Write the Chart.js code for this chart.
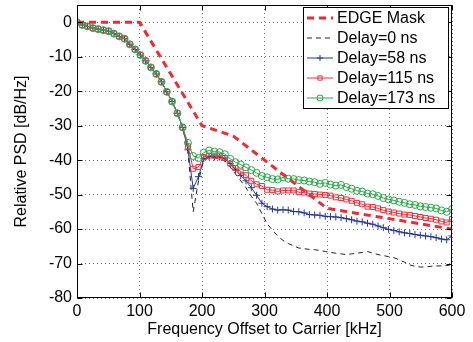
<!DOCTYPE html>
<html>
<head>
<meta charset="utf-8">
<title>Relative PSD vs frequency offset</title>
<script src="https://cdn.jsdelivr.net/npm/chart.js@4.4.1/dist/chart.umd.min.js"></script>
<style>
  html, body { margin: 0; padding: 0; background: #fff; }
  canvas { display: block; }
</style>
</head>
<body>
<canvas id="psd-chart" width="473" height="342"></canvas>
<script>
// ── Data ──────────────────────────────────────────────────
const freqKHz = [
  0, 8.5, 16.9, 25.4, 33.8, 42.3, 50.7, 59.2, 67.6, 76.1,
  84.5, 93, 101.4, 109.9, 118.3, 126.8, 135.2, 143.7, 152.1, 160.6,
  169, 177.5, 185.9, 194.4, 202.8, 211.3, 219.7, 228.2, 236.6, 245.1,
  253.5, 262, 270.4, 278.9, 287.3, 295.8, 304.2, 312.7, 321.1, 329.6,
  338, 346.5, 354.9, 363.4, 371.8, 380.3, 388.7, 397.2, 405.6, 414.1,
  422.5, 431, 439.4, 447.9, 456.3, 464.8, 473.2, 481.7, 490.1, 498.6,
  507, 515.5, 523.9, 532.4, 540.8, 549.3, 557.7, 566.2, 574.6, 583.1,
  591.5, 600,
];

// all four delays share the main lobe up to ~170 kHz
const commonHead = [
  0, -0.8, -1.2, -1.7, -2.0, -2.3, -2.6, -3.3, -4.1, -4.8,
  -6.4, -7.9, -9.5, -11.2, -13.1, -15.0, -17.3, -20.2, -23.0, -26.4,
  -30.5,
];

const delay0Tail = [
  -37.5, -55.0, -46.0, -40.0, -39.2, -39.3, -39.5, -40.2, -42.0, -44.0,
  -46.0, -48.0, -50.5, -52.5, -55.5, -58.5, -60.3, -62.0, -63.3, -64.2,
  -64.9, -65.5, -65.7, -65.9, -66.0, -66.2, -66.5, -66.8, -67.0, -67.2,
  -67.4, -67.2, -67.0, -66.8, -66.5, -67.0, -67.4, -67.7, -68.0, -68.3,
  -68.9, -69.6, -70.4, -70.8, -71.0, -71.0, -70.8, -70.7, -70.7, -70.6,
  -70.3,
];

const delay58Tail = [
  -37.0, -48.2, -44.8, -39.6, -39.0, -39.1, -39.1, -39.6, -41.0, -42.8,
  -44.5, -46.0, -48.0, -50.2, -52.5, -53.5, -54.2, -54.5, -54.4, -54.5,
  -54.9, -55.0, -55.3, -55.8, -55.9, -56.0, -56.3, -56.4, -56.5, -56.7,
  -57.0, -57.3, -57.7, -57.9, -58.3, -58.6, -59.1, -59.6, -60.1, -60.4,
  -60.8, -61.1, -61.3, -61.6, -61.8, -62.0, -62.2, -62.5, -62.9, -63.1,
  -62.0,
];

const delay115Tail = [
  -36.0, -42.5, -42.0, -39.1, -38.7, -38.7, -38.9, -39.4, -41.0, -42.3,
  -43.3, -44.4, -46.0, -47.0, -47.5, -48.6, -48.7, -49.1, -48.8, -48.8,
  -48.8, -49.3, -49.4, -49.7, -49.8, -50.0, -50.1, -50.3, -50.8, -51.0,
  -51.4, -51.8, -52.4, -52.8, -53.5, -53.6, -54.0, -54.5, -54.9, -55.2,
  -55.5, -55.8, -55.9, -56.2, -56.5, -56.8, -57.0, -57.3, -57.8, -58.1,
  -57.1,
];

const delay173Tail = [
  -35.0, -38.8, -39.4, -37.8, -37.2, -37.5, -37.7, -38.3, -39.6, -40.6,
  -41.3, -42.1, -42.9, -43.7, -44.6, -45.0, -45.5, -45.6, -45.0, -45.4,
  -45.5, -45.8, -45.9, -46.2, -46.4, -46.9, -46.6, -47.1, -47.4, -47.2,
  -47.8, -48.3, -48.9, -49.1, -49.7, -49.9, -50.4, -51.0, -51.4, -51.7,
  -52.1, -52.4, -52.8, -53.0, -53.4, -53.6, -53.8, -54.0, -54.6, -55.0,
  -54.2,
];

// EDGE spectrum mask corners
const maskFreq = [0, 100, 200, 250, 400, 600];
const maskLevel = [0, 0, -30, -33, -54, -60];

const xTicks = [0, 100, 200, 300, 400, 500, 600];
const yTicks = [0, -10, -20, -30, -40, -50, -60, -70, -80];

// ── Helpers ───────────────────────────────────────────────
const FONT = { family: '"Liberation Sans", Arial, Helvetica, sans-serif', size: 16 };

function toPoints(xs, ys) {
  return ys.map((v, i) => ({ x: xs[i], y: v }));
}

function series(label, tail, color, style) {
  return {
    label,
    data: toPoints(freqKHz, commonHead.concat(tail)),
    borderColor: color,
    borderWidth: 1,
    pointStyle: style,
    pointRadius: 3.5,
    pointBorderWidth: 1,
    pointBorderColor: color,
    pointBackgroundColor: 'rgba(0,0,0,0)',
    tension: 0,
  };
}

// ── Plugins: matlab-ish box, inward ticks, boxed legend ───
const axisBox = {
  id: 'axisBox',
  afterDatasetsDraw(chart) {
    const { ctx, chartArea: a, scales: { x, y } } = chart;
    const L = Math.round(a.left) + 0.5, R = Math.round(a.right) - 0.5;
    const T = Math.round(a.top) + 0.5, B = Math.round(a.bottom) - 0.5;
    ctx.save();
    ctx.strokeStyle = '#000';
    ctx.lineWidth = 1;
    ctx.beginPath();
    x.ticks.forEach(t => {
      const px = Math.round(x.getPixelForValue(t.value)) + 0.5;
      ctx.moveTo(px, B); ctx.lineTo(px, B - 5);
      ctx.moveTo(px, T); ctx.lineTo(px, T + 5);
    });
    y.ticks.forEach(t => {
      const py = Math.round(y.getPixelForValue(t.value)) + 0.5;
      ctx.moveTo(L, py); ctx.lineTo(L + 5, py);
      ctx.moveTo(R, py); ctx.lineTo(R - 5, py);
    });
    ctx.stroke();
    ctx.strokeRect(L, T, R - L, B - T);
    ctx.restore();
  },
};

const boxedLegend = {
  id: 'boxedLegend',
  afterDraw(chart) {
    const { ctx } = chart;
    const sets = chart.data.datasets;
    const left = 303, top = 7, width = 145, rowH = 20;
    ctx.save();
    ctx.fillStyle = '#fff';
    ctx.fillRect(left, top, width, rowH * sets.length + 1);
    ctx.strokeStyle = '#000';
    ctx.lineWidth = 1;
    ctx.strokeRect(left + 0.5, top + 0.5, width, rowH * sets.length + 1);

    ctx.font = `${FONT.size}px ${FONT.family}`;
    ctx.textBaseline = 'middle';
    sets.forEach((ds, i) => {
      const cy = top + 11 + i * rowH;
      ctx.strokeStyle = ds.borderColor;
      ctx.lineWidth = ds.borderWidth;
      ctx.setLineDash(ds.borderDash || []);
      ctx.beginPath();
      ctx.moveTo(left + 4, cy);
      ctx.lineTo(left + 30, cy);
      ctx.stroke();
      ctx.setLineDash([]);
      if (ds.pointRadius > 0) {
        ctx.fillStyle = 'rgba(0,0,0,0)';
        Chart.helpers.drawPoint(ctx, {
          pointStyle: ds.pointStyle, radius: 3, borderWidth: 1, rotation: 0,
        }, left + 17, cy);
      }
      ctx.fillStyle = '#000';
      ctx.fillText(ds.label, left + 34, cy + 1);
    });
    ctx.restore();
  },
};

// ── Chart ─────────────────────────────────────────────────
const ctx = document.getElementById('psd-chart');
new Chart(ctx, {
  type: 'line',
  data: {
    datasets: [
      {
        label: 'EDGE Mask',
        data: toPoints(maskFreq, maskLevel),
        borderColor: '#ee2a36',
        borderWidth: 3,
        borderDash: [7, 5],
        pointRadius: 0,
        order: 0,
      },
      { ...series('Delay=0 ns', delay0Tail, '#222222', 'circle'), pointRadius: 0, borderDash: [5, 4], order: 5 },
      { ...series('Delay=58 ns', delay58Tail, '#27388f', 'cross'), order: 4 },
      { ...series('Delay=115 ns', delay115Tail, '#e8323f', 'rect'), order: 3 },
      { ...series('Delay=173 ns', delay173Tail, '#2aa84a', 'circle'), order: 2 },
    ],
  },
  options: {
    responsive: false,
    animation: false,
    layout: { padding: { top: 4, right: 21, left: 0, bottom: 0 } },
    plugins: {
      legend: { display: false },
      tooltip: { enabled: false },
    },
    scales: {
      x: {
        type: 'linear',
        min: 0,
        max: 600,
        afterBuildTicks: axis => { axis.ticks = xTicks.map(v => ({ value: v })); },
        afterFit: axis => { axis.height = 44; axis.paddingLeft = 0; axis.paddingRight = 0; },
        ticks: { color: '#000', font: FONT, padding: 4, maxRotation: 0 },
        grid: { color: '#777', drawTicks: false },
        border: { display: false, dash: [1, 3] },
        title: {
          display: true, text: 'Frequency Offset to Carrier [kHz]',
          color: '#000', font: FONT, padding: { top: 0, bottom: 3 },
        },
      },
      y: {
        type: 'linear',
        min: -80,
        max: 5,
        afterBuildTicks: axis => { axis.ticks = yTicks.map(v => ({ value: v })); },
        afterFit: axis => { axis.width = 77; axis.paddingTop = 0; axis.paddingBottom = 0; },
        ticks: { color: '#000', font: FONT, padding: 5 },
        grid: { color: '#777', drawTicks: false },
        border: { display: false, dash: [1, 3] },
        title: {
          display: true, text: 'Relative PSD [dB/Hz]',
          color: '#000', font: FONT, padding: { top: 12, bottom: 0 },
        },
      },
    },
  },
  plugins: [axisBox, boxedLegend],
});
</script>
</body>
</html>
